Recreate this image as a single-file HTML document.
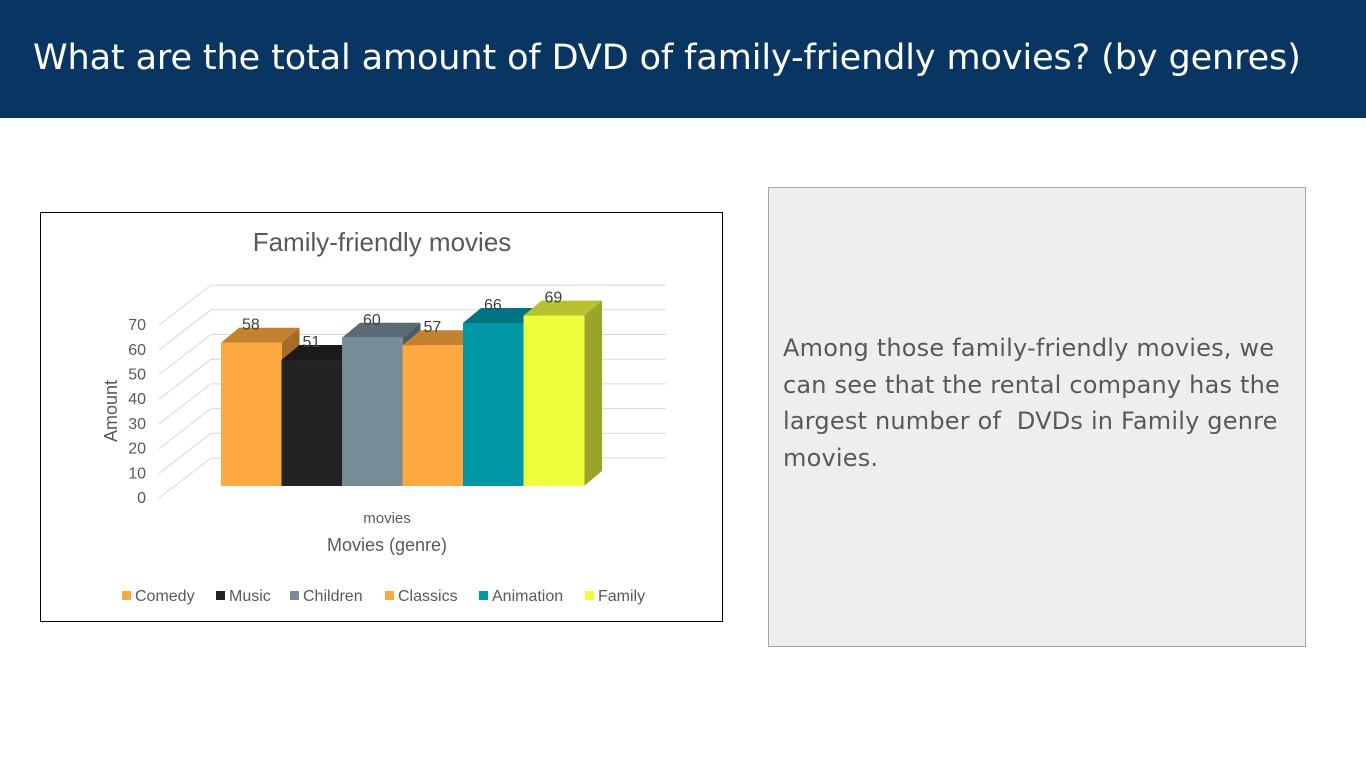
<!DOCTYPE html>
<html><head><meta charset="utf-8"><style>
body{margin:0;width:1366px;height:768px;background:#fff;position:relative;overflow:hidden;font-family:"Liberation Sans",sans-serif}
.hdr{position:absolute;left:0;top:0;width:1366px;height:118px;background:#083561}
.hdr h1{margin:0;position:absolute;left:33px;top:38px;font-family:"DejaVu Sans","Liberation Sans",sans-serif;font-weight:normal;font-size:35px;color:#fff;letter-spacing:-0.1px;white-space:nowrap}
.chart{position:absolute;left:40px;top:212px;width:681px;height:408px;border:1px solid #000;background:#fff}
.note{position:absolute;left:768px;top:187px;width:536px;height:458px;border:1px solid #a6a6a6;background:#eeeeee}
.note p{margin:0;position:absolute;left:14px;top:142px;width:515px;font-family:"DejaVu Sans","Liberation Sans",sans-serif;font-size:24px;letter-spacing:0.2px;line-height:36.5px;color:#595959}
</style></head><body>
<div class="hdr"><h1>What are the total amount of DVD of family-friendly movies? (by genres)</h1></div>
<div class="chart">
<svg id="svg" width="681" height="408" viewBox="40 212 681 408"></svg>
</div>
<div class="note"><p>Among those family-friendly movies, we can see that the rental company has the largest number of&nbsp; DVDs in Family genre movies.</p></div>
<script>
const categories=["Comedy","Music","Children","Classics","Animation","Family"];
const values=[58,51,60,57,66,69];
const colors=["#fea840","#222222","#778b97","#fea840","#0097a7","#eefd3c"];
const tops=["#c48130","#1a1a1a","#5b6b74","#c48130","#007480","#b8c22e"];
const sides=["#a56c28","#151515","#4c5a62","#a56c28","#006068","#9aa428"];
const ticks=[0,10,20,30,40,50,60,70];
const NS="http://www.w3.org/2000/svg";
const svg=document.getElementById('svg');
function el(t,a,txt){const e=document.createElementNS(NS,t);for(const k in a)e.setAttribute(k,a[k]);if(txt!==undefined)e.textContent=txt;svg.appendChild(e);return e;}
const K=2.47;
function yFront(v){return 497-v*K;}
function yBack(v){return 457-v*K;}
function yBar(v){return 485-v*K;}
for(let v=0;v<=70;v+=10){
 const l1=el('line',{x1:158,y1:yFront(v),x2:210,y2:yBack(v),stroke:'#d9d9d9','stroke-width':1});
 
 const l2=el('line',{x1:210,y1:yBack(v),x2:665,y2:yBack(v),stroke:'#d9d9d9','stroke-width':1});
 
}
ticks.forEach(v=>{
 const t=el('text',{x:145,y:yFront(v)+5,'text-anchor':'end','font-size':16,fill:'#595959'},v);
 
});
const x0=220,bw=60.5,dx=18,dy=15;
values.forEach((v,i)=>{
 const x=x0+i*bw,yt=yBar(v),yb=485;
 const top=el('polygon',{points:`${x},${yt} ${x+dx},${yt-dy} ${x+bw+dx},${yt-dy} ${x+bw},${yt}`,fill:tops[i]});
 
 const side=el('polygon',{points:`${x+bw},${yt} ${x+bw+dx},${yt-dy} ${x+bw+dx},${yb-dy} ${x+bw},${yb}`,fill:sides[i]});
 
 const r=el('rect',{x:x,y:yt,width:bw+0.5,height:yb-yt,fill:colors[i]});
 
});
values.forEach((v,i)=>{
 const x=x0+i*bw,yt=yBar(v);
 const t=el('text',{x:x+dx+3,y:yt-dy+2,'font-size':16,fill:'#404040'},v);
 
});
let t;
t=el('text',{x:381,y:250,'text-anchor':'middle','font-size':26,fill:'#595959'},'Family-friendly movies');

t=el('text',{x:386,y:522,'text-anchor':'middle','font-size':15,fill:'#595959'},'movies');

t=el('text',{x:386,y:550,'text-anchor':'middle','font-size':18,fill:'#595959'},'Movies (genre)');

t=el('text',{x:0,y:0,'text-anchor':'middle','font-size':18,fill:'#595959',transform:'translate(116,410) rotate(-90)'},'Amount');

const legX=[121,215,289,384,478,584];
categories.forEach((c,i)=>{
 const r=el('rect',{x:legX[i],y:590,width:9,height:9,fill:colors[i]});
 
 const tt=el('text',{x:legX[i]+13,y:600,'font-size':16,fill:'#595959'},c);
 
});
</script>
</body></html>
